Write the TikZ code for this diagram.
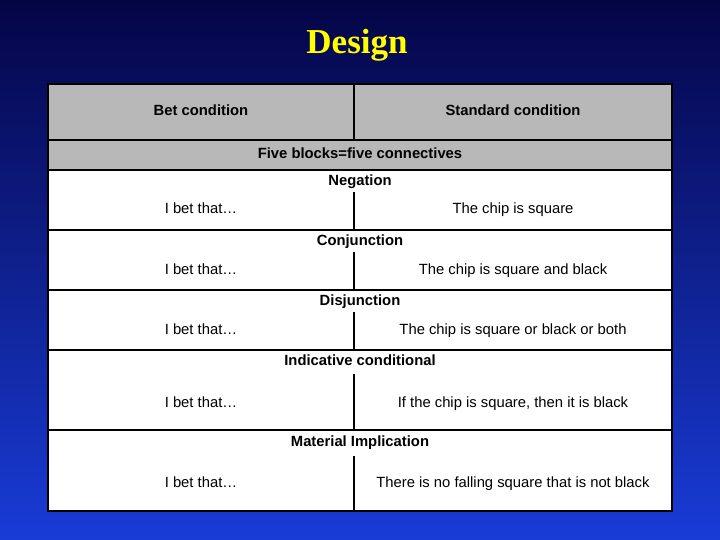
\documentclass[tikz,border=0pt]{standalone}
\usepackage{fontspec}
\setmainfont{Liberation Sans}
\newfontfamily\titlefont{Liberation Serif}
\definecolor{bgtop}{RGB}{5,5,70}
\definecolor{bgbot}{RGB}{25,60,215}
\definecolor{cellgray}{RGB}{184,184,184}
\definecolor{titley}{RGB}{255,255,0}
\begin{document}
\begin{tikzpicture}[x=1pt,y=-1pt,
  rule/.style={black,line width=1.5pt},
  txt/.style={font=\fontsize{14.8}{17}\selectfont,inner sep=0pt,anchor=center,text height=10.5pt,text depth=3pt},
  bold/.style={txt,font=\fontsize{14.8}{17}\selectfont\bfseries}]
\useasboundingbox (0,0) rectangle (720,540);
\shade[top color=bgtop,bottom color=bgbot] (0,0) rectangle (720,540);
\node[font=\titlefont\fontsize{35}{40}\selectfont\bfseries,text=titley] (title) at (357,45) {Design};
\fill[cellgray] (48,84) rectangle (672,170);
\fill[white] (48,170) rectangle (672,511);
\draw[rule] (48,84) rectangle (672,511);
\foreach \y in {140,170,230,290,350,430} \draw[rule] (48,\y) -- (672,\y);
\draw[rule] (354,84) -- (354,140);
\node[bold] (h1) at (201,112) {Bet condition};
\node[bold] (h2) at (513,112) {Standard condition};
\node[bold] (fb) at (360,155) {Five blocks=five connectives};
\foreach \top/\lab/\ly/\dy/\ty/\bot/\txt/\n in {
 170/Negation/182/192/210/230/The chip is square/a,
 230/Conjunction/242/252/271/290/The chip is square and black/b,
 290/Disjunction/302/312/331/350/The chip is square or black or both/c,
 350/Indicative conditional/362/374/404/430/{If the chip is square, then it is black}/d,
 430/Material Implication/443/456/484/511/There is no falling square that is not black/e}{
  \node[bold] (l\n) at (360,\ly) {\lab};
  \draw[rule] (354,\dy) -- (354,\bot);
  \node[txt] (x\n) at (201,\ty) {I bet that\dots};
  \node[txt] (y\n) at (513,\ty) {\txt};
}
\end{tikzpicture}
\end{document}
